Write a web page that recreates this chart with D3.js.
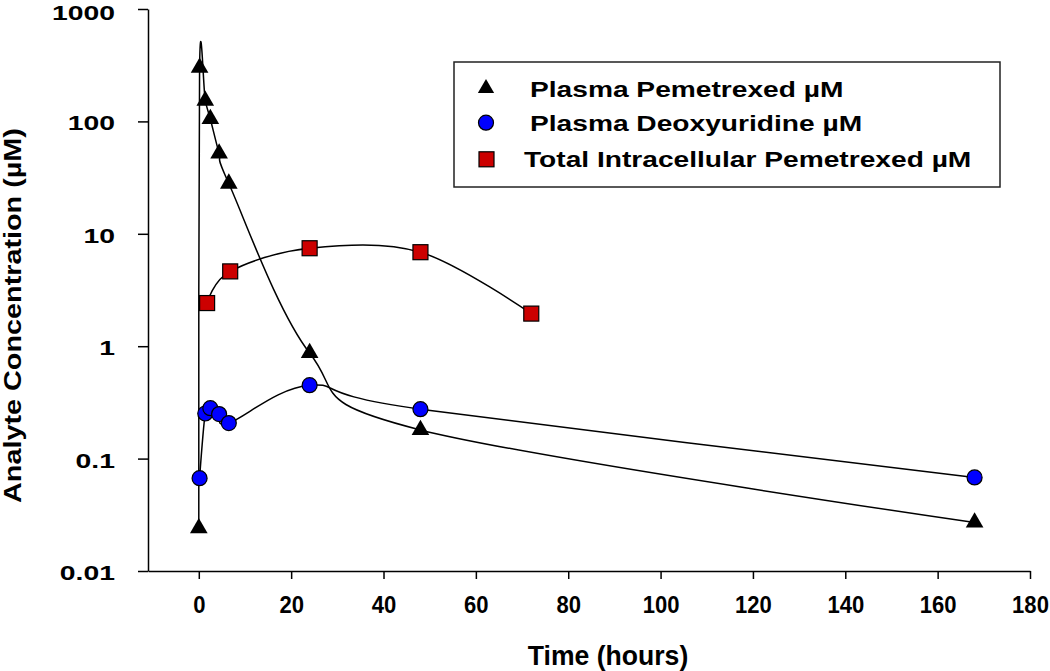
<!DOCTYPE html>
<html><head><meta charset="utf-8">
<script src="https://cdn.jsdelivr.net/npm/d3@7"></script>
<style>body{margin:0;background:#fff} text{font-family:"Liberation Sans",Arial,Helvetica,sans-serif;font-weight:bold;fill:#000}</style>
</head><body>
<svg id="c" width="1050" height="671"></svg>
<script>
// ---- data ----
const pemTime  = [0, 0.17, 1.4, 2.5, 4.4, 6.5, 24, 48, 168];
const pemValue = [0.024, 300, 153, 105, 52, 28, 0.87, 0.18, 0.027];
const dxuTime  = [0.17, 1.4, 2.5, 4.4, 6.5, 24, 48, 168];
const dxuValue = [0.067, 0.252, 0.281, 0.249, 0.207, 0.45, 0.275, 0.068];
const icTime   = [1.8, 6.8, 24, 48, 72];
const icValue  = [2.42, 4.63, 7.44, 6.86, 1.95];
const xTicks = [0, 20, 40, 60, 80, 100, 120, 140, 160, 180];
const yTicks = [0.01, 0.1, 1, 10, 100, 1000];
const yTickLabels = ["0.01", "0.1", "1", "10", "100", "1000"];
const seriesNames = ["Plasma Pemetrexed \u00B5M", "Plasma Deoxyuridine \u00B5M", "Total Intracellular Pemetrexed \u00B5M"];
const xTitle = "Time (hours)";
const yTitle = "Analyte Concentration (\u00B5M)";

const svg = d3.select("#c");
const x = d3.scaleLinear().domain([-11, 180]).range([148, 1030]);
const y = d3.scaleLog().domain([0.01, 1000]).range([571, 9]);

// axes
const gx = svg.append("g").attr("transform", "translate(0,571)")
  .call(d3.axisBottom(x).tickValues(xTicks).tickSize(8).tickSizeOuter(0).tickFormat(d3.format("d")));
gx.selectAll("text").attr("y", 0).attr("dy", 0).style("font-size", "24px")
  .attr("transform", "translate(0,42) scale(0.92,1)");
const gy = svg.append("g").attr("transform", "translate(148,0)")
  .call(d3.axisLeft(y).tickValues(yTicks).tickSize(10).tickSizeOuter(0).tickFormat((d, i) => yTickLabels[i]));
gy.selectAll("text").attr("x", 0).attr("dy", d => d === 1000 ? "0.5em" : "0.4em").style("font-size", "21px")
  .attr("transform", "translate(-33,0) scale(1.35,1)");
svg.selectAll(".domain, .tick line").attr("stroke", "#000").attr("stroke-width", 1.5);

svg.append("text").attr("transform", "translate(608,665) scale(0.95,1)")
  .attr("text-anchor", "middle").style("font-size", "28px").text(xTitle);
svg.append("text").attr("transform", "translate(21,315.5) rotate(-90) scale(1.2,1)")
  .attr("text-anchor", "middle").style("font-size", "24px").text(yTitle);

// lines
const line = d3.line().x(d => x(d[0])).y(d => y(d[1])).curve(d3.curveCardinal.tension(0));
const pem = d3.zip(pemTime, pemValue), dxu = d3.zip(dxuTime, dxuValue), ic = d3.zip(icTime, icValue);
[pem, dxu, ic].forEach(s => svg.append("path").attr("d", line(s))
  .attr("fill", "none").attr("stroke", "#000").attr("stroke-width", 1.5));

// markers
const tri = d3.symbol(d3.symbolTriangle, 135)();
svg.append("g").selectAll("path").data(pem).join("path")
  .attr("d", tri).attr("transform", d => `translate(${x(d[0])},${y(d[1])})`).attr("fill", "#000");
svg.append("g").selectAll("circle").data(dxu).join("circle")
  .attr("cx", d => x(d[0])).attr("cy", d => y(d[1])).attr("r", 7.5)
  .attr("fill", "#0000ff").attr("stroke", "#000").attr("stroke-width", 1.2);
svg.append("g").selectAll("rect").data(ic).join("rect")
  .attr("x", d => x(d[0]) - 7.5).attr("y", d => y(d[1]) - 7.5).attr("width", 15).attr("height", 15)
  .attr("fill", "#cc0000").attr("stroke", "#000").attr("stroke-width", 1.2);

// legend
const lg = svg.append("g");
lg.append("rect").attr("x", 454).attr("y", 62).attr("width", 546).attr("height", 125)
  .attr("fill", "#fff").attr("stroke", "#222").attr("stroke-width", 1.5);
const ly = [88.3, 122.7, 159.3], tx = [530, 530, 524], tb = [96.5, 131, 167];
lg.append("path").attr("d", d3.symbol(d3.symbolTriangle, 115)()).attr("transform", `translate(486,${ly[0]})`).attr("fill", "#000");
lg.append("circle").attr("cx", 486).attr("cy", ly[1]).attr("r", 7.5).attr("fill", "#0000ff").attr("stroke", "#000").attr("stroke-width", 1.2);
lg.append("rect").attr("x", 479).attr("y", ly[2] - 7.5).attr("width", 15).attr("height", 15).attr("fill", "#cc0000").attr("stroke", "#000").attr("stroke-width", 1.2);
seriesNames.forEach((n, i) => lg.append("text").attr("transform", `translate(${tx[i]},${tb[i]}) scale(1.28,1)`)
  .style("font-size", "22px").text(n));
</script>
</body></html>
